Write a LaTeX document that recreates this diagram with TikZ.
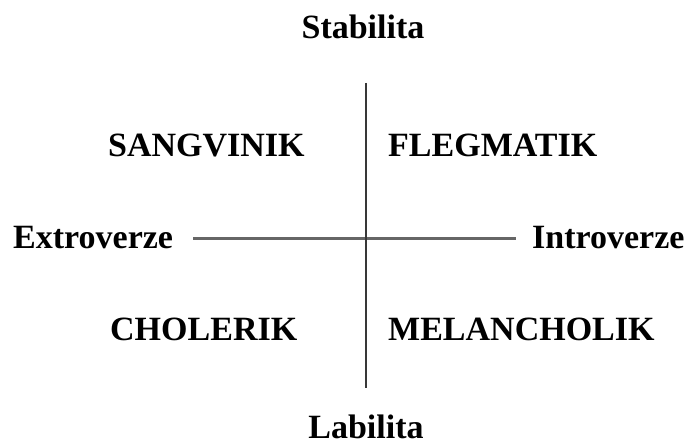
\documentclass[tikz,border=0pt]{standalone}
\usepackage{fontspec}
\setmainfont{Liberation Serif}
\tikzset{
  pole/.style={font=\bfseries\fontsize{34}{40}\selectfont, inner sep=0pt, anchor=base},
  temper/.style={font=\bfseries\fontsize{34}{40}\selectfont, inner sep=0pt, anchor=base west},
  hline/.style={line width=3pt, draw=black!60},
  vline/.style={line width=2.6pt, draw=black!78}
}
\begin{document}
\begin{tikzpicture}[x=1pt,y=-1pt]
  \useasboundingbox (0,0) rectangle (689,446);

  \node[pole] (stab) at (363,39) {Stabilita};
  \node[pole] (lab) at (366,439) {Labilita};
  \node[temper] (extro) at (13,249) {Extroverze};
  \node[temper] (intro) at (532,249) {Introverze};

  \node[temper] (sang) at (108,157) {SANGVINIK};
  \node[temper] (fleg) at (388,157) {FLEGMATIK};
  \node[temper] (chol) at (110,341) {CHOLERIK};
  \node[temper] (mel) at (388,341) {MELANCHOLIK};

  \coordinate (top) at (366,83);
  \coordinate (bottom) at (366,388);
  \coordinate (left) at (193,239);
  \coordinate (right) at (516,239);

  \draw[hline] (left) -- (right);
  \draw[vline] (top) -- (bottom);
\end{tikzpicture}
\end{document}
